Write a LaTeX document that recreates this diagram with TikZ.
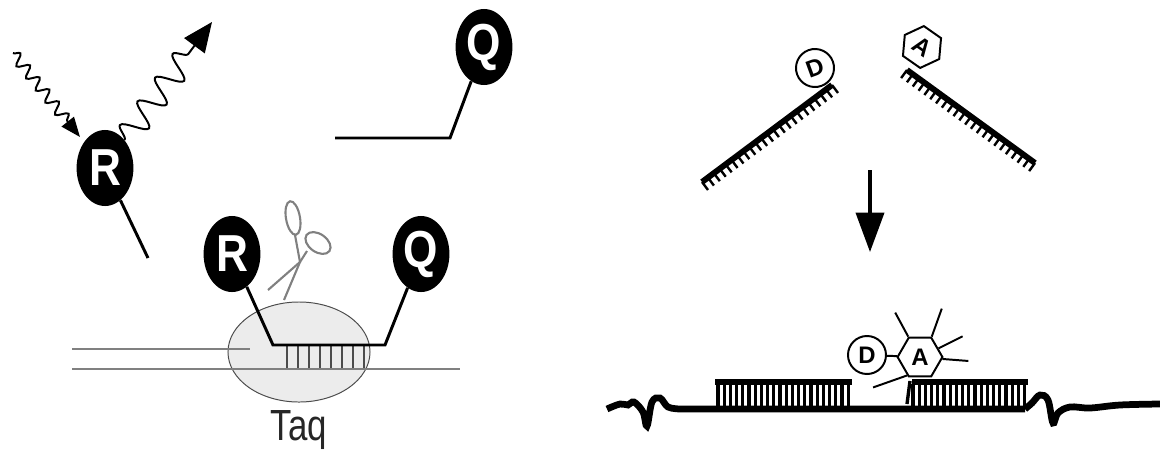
\documentclass[tikz,border=0pt]{standalone}
\usepackage{fontspec}
\setsansfont{Liberation Sans}
\usepackage{graphicx}
\usetikzlibrary{arrows.meta, shapes.geometric, decorations.pathmorphing, calc}
\definecolor{taqgray}{HTML}{ECECEC}
\newcommand{\narrow}[1]{\scalebox{0.85}[1]{#1}}

\begin{document}
\begin{tikzpicture}[x=0.025cm, y=-0.025cm,
  dye/.style={ellipse, fill=black, text=white, inner sep=0pt,
              minimum width=1.42cm, minimum height=1.9cm,
              font=\sffamily\bfseries\fontsize{37}{37}\selectfont},
  stem/.style={line width=2.1pt, black, line join=miter},
  dna/.style={line width=1.4pt, black!50},
  rung/.style={line width=0.9pt, black!70},
  oligo/.style={line width=4.2pt, black},
  tick/.style={line width=1.7pt, black},
  bp/.style={line width=2.4pt, black},
  fret/.style={draw, line width=1.4pt, fill=white, inner sep=0pt,
               font=\sffamily\bfseries\fontsize{17}{17}\selectfont},
  spike/.style={line width=1.4pt, black},
  scis/.style={line width=1.5pt, black!50}]
  \useasboundingbox (0,0) rectangle (1160,450);

  % ---- left: reporter / quencher probe ----
  \node[dye] (r1) at (105,168) {\narrow{R}};
  \node[dye] (q1) at (484,47) {\narrow{Q}};
  \coordinate (r1end) at (148,258);
  \draw[stem] (r1) -- (r1end);
  \coordinate (q1a) at (335,138);
  \coordinate (q1b) at (450,138);
  \draw[stem] (q1a) -- (q1b) -- (q1);

  % light in, fluorescence out
  \coordinate (inA) at (13,53);
  \coordinate (inB) at (80,137);
  \draw[-{Triangle[length=14pt,width=11pt]}, line width=1.4pt, decorate,
        decoration={snake, amplitude=4pt, segment length=11pt, post length=14pt}]
    (inA) -- (inB);
  \coordinate (outB) at (212,22);
  \draw[-{Triangle[length=21pt,width=18pt]}, line width=1.4pt, decorate,
        decoration={snake, amplitude=9pt, segment length=21pt, post length=18pt}]
    (r1.55) -- (outB);

  % Taq bound to the template
  \node[ellipse, draw=black!70, fill=taqgray, line width=0.7pt,
        minimum width=3.55cm, minimum height=2.5cm] (taq) at (299,352) {};
  \node[anchor=base, text=black!85,
        font=\sffamily\fontsize{31}{31}\selectfont] (taqlbl) at (299,440) {\scalebox{0.8}[1]{Taq}};
  \coordinate (lsA) at (72,349);
  \coordinate (lsB) at (250,349);
  \coordinate (tsA) at (72,369);
  \coordinate (tsB) at (460,369);
  \draw[dna] (lsA) -- (lsB);
  \draw[dna] (tsA) -- (tsB);
  \foreach \x in {287,298,...,365}
    \draw[rung] (\x,345) -- (\x,368);

  \node[dye] (r2) at (232,254) {\narrow{R}};
  \node[dye] (q2) at (421,254) {\narrow{Q}};
  \coordinate (pa) at (273,345);
  \coordinate (pb) at (385,345);
  \draw[stem] (r2) -- (pa) -- (pb) -- (q2);

  % scissors
  \draw[scis, rotate around={10:(293,218)}] (293,218) ellipse [x radius=7, y radius=17];
  \draw[scis, rotate around={-35:(318,243)}] (318,243) ellipse [x radius=14, y radius=9];
  \draw[scis] (295,235) -- (300,262) -- (268,290);
  \draw[scis] (307,251) -- (300,262) -- (284,300);

  % ---- right: donor / acceptor probes ----
  \coordinate (dA) at (702,182);
  \coordinate (dB) at (832,85);
  \draw[oligo] (dA) -- (dB);
  \foreach \i in {0,...,22}
    \draw[tick] ($(dA)!\i/22!(dB)$) -- ++(53:10);
  \node[fret, circle, minimum size=0.95cm, rotate=20] (d1) at (815,68) {D};

  \coordinate (aA) at (907,70);
  \coordinate (aB) at (1035,163);
  \draw[oligo] (aA) -- (aB);
  \foreach \i in {0,...,22}
    \draw[tick] ($(aA)!\i/22!(aB)$) -- ++(126:10);
  \node[fret, regular polygon, regular polygon sides=6, minimum size=1.05cm,
        rotate=-35] (a1) at (922,47) {A};

  \coordinate (arA) at (870,170);
  \coordinate (arB) at (870,252);
  \draw[-{Triangle[length=28pt,width=20pt]}, line width=2.4pt] (arA) -- (arB);

  % hybridised on the target
  \draw[oligo, line width=4.8pt] plot[smooth, tension=0.6] coordinates
    {(607,409) (620,404) (628,405) (634,402) (643,412) (647,426) (652,402) (660,398) (668,407) (680,409)}
    -- (1025,409);
  \draw[oligo, line width=4.8pt] plot[smooth, tension=0.6] coordinates
    {(1025,409) (1032,403) (1040,395) (1048,400) (1053,423) (1058,413) (1070,407) (1090,408) (1120,405) (1160,404)};
  \coordinate (lpA) at (715,382);
  \coordinate (lpB) at (852,382);
  \draw[oligo] (lpA) -- (lpB);
  \foreach \x in {718,724.2,...,850}
    \draw[bp] (\x,384) -- (\x,406);
  \coordinate (rpA) at (912,382);
  \coordinate (rpB) at (1028,382);
  \draw[oligo] (rpA) -- (rpB);
  \foreach \x in {913,919.2,...,1026}
    \draw[bp] (\x,384) -- (\x,406);
  \draw[bp] (910,381) -- (907,404);

  \node[fret, circle, minimum size=0.95cm] (d2) at (867,355) {D};
  \node[fret, regular polygon, regular polygon sides=6, minimum size=1.12cm] (a2) at (920,357) {A};
  \draw[line width=1.4pt] (d2) -- (a2);
  \draw[spike] (a2.120) -- ++(-13,-24);
  \draw[spike] (a2.60) -- ++(10,-28);
  \draw[spike] (a2.25) -- ++(24,-12);
  \draw[spike] (a2.-5) -- ++(26,2);
  \draw[spike] (a2.-125) -- ++(-34,12);
\end{tikzpicture}
\end{document}
